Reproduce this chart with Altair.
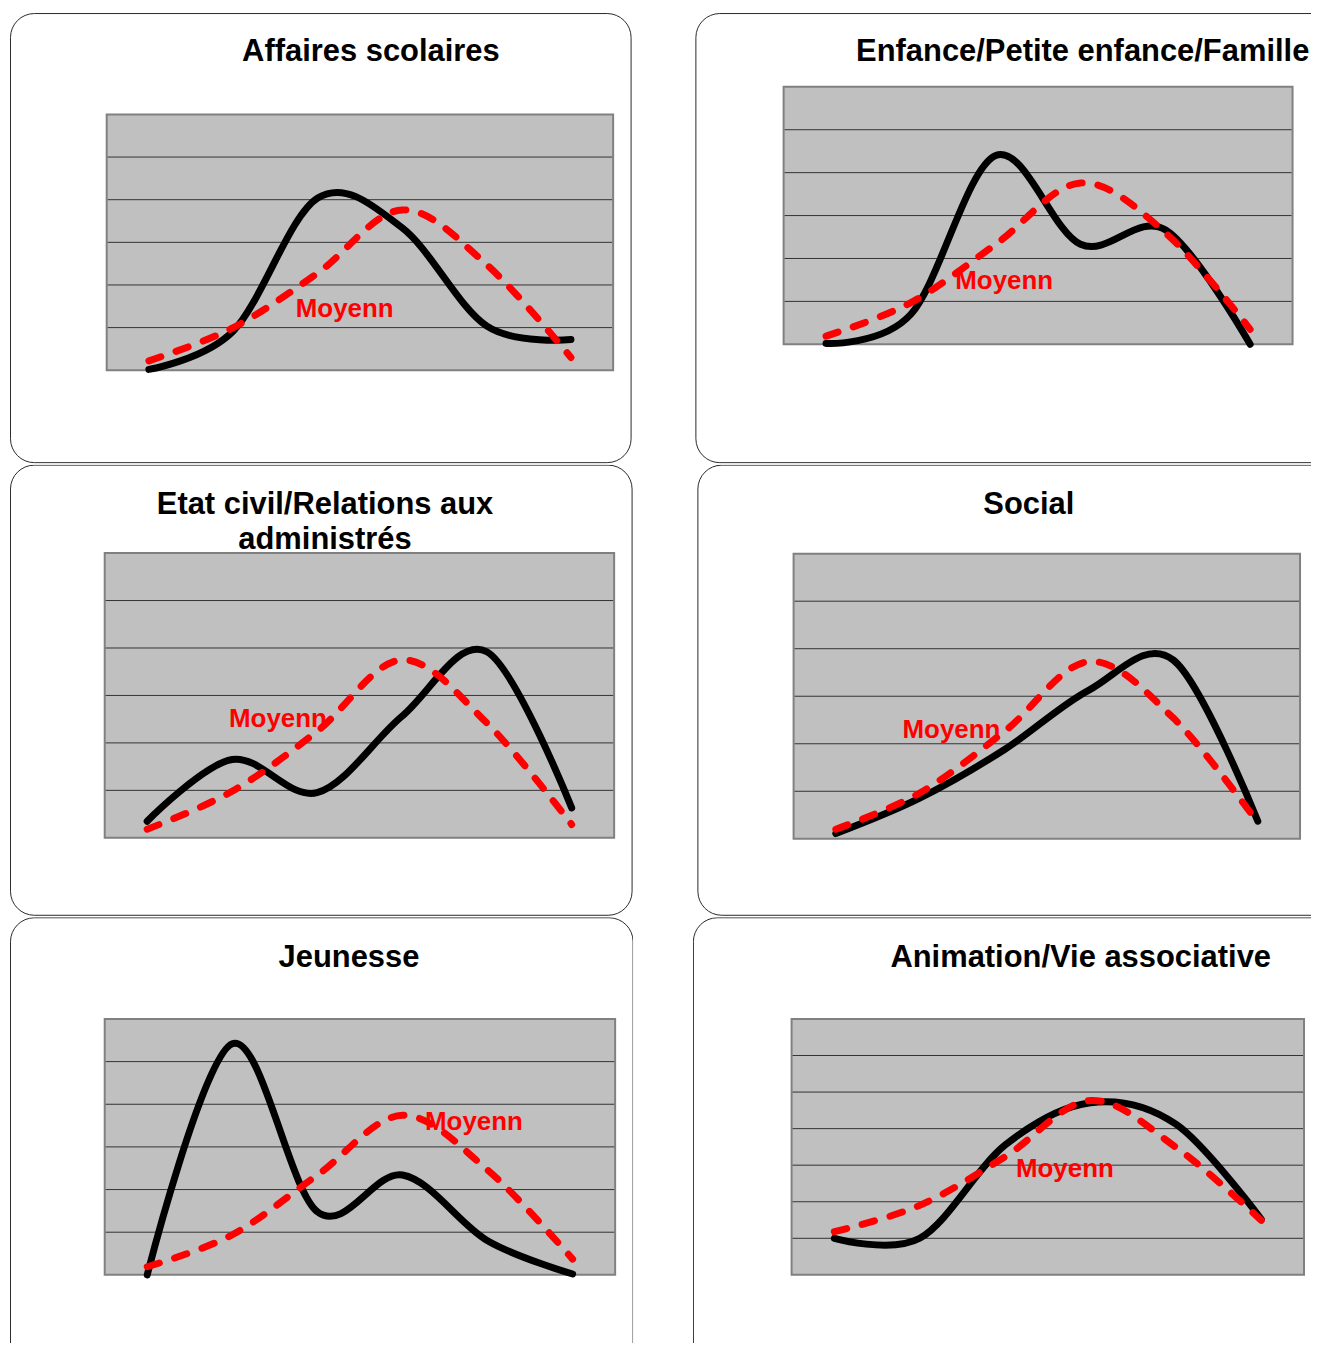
import altair as alt
import pandas as pd

categories = [1, 2, 3, 4, 5, 6]
titles = [
    "Affaires scolaires",
    "Enfance/Petite enfance/Famille",
    "Etat civil/Relations aux\nadministrés",
    "Social",
    "Jeunesse",
    "Animation/Vie associative",
]

service_affaires = [0.2, 9.2, 40.4, 33.4, 10.4, 7.2]
moyenne_affaires = [2.2, 10.0, 22.8, 37.6, 24.8, 3.0]
service_enfance = [0.2, 7.0, 44.0, 23.3, 26.7, 0.0]
moyenne_enfance = [1.9, 9.7, 23.3, 37.6, 26.0, 3.5]
service_etat = [3.5, 16.5, 9.5, 25.6, 39.2, 6.3]
moyenne_etat = [1.8, 9.8, 22.4, 37.5, 24.2, 2.8]
service_social = [1.1, 8.6, 18.8, 31.3, 37.6, 3.7]
moyenne_social = [2.0, 9.7, 22.6, 37.3, 25.4, 3.4]
service_jeunesse = [0.0, 54.2, 14.8, 23.4, 8.0, 0.2]
moyenne_jeunesse = [1.9, 9.4, 23.4, 37.4, 24.6, 3.7]
service_animation = [0.0, 0.0, 25.5, 37.1, 31.2, 5.2]
moyenne_animation = [1.8, 9.0, 22.3, 37.7, 24.9, 4.9]

services = [service_affaires, service_enfance, service_etat,
            service_social, service_jeunesse, service_animation]
moyennes = [moyenne_affaires, moyenne_enfance, moyenne_etat,
            moyenne_social, moyenne_jeunesse, moyenne_animation]

label_text = "Moyenn"
label_x = [3.32, 3.10, 2.54, 2.37, 4.84, 3.70]
label_y = [12.5, 12.8, 23.4, 21.3, 33.9, 16.9]

y_domains = [[0, 60], [0, 60], [0, 60], [0, 60], [0, 60], [-10, 60]]
grid_values = [[10, 20, 30, 40, 50]] * 5 + [[0, 10, 20, 30, 40, 50]]

# layout (pixels, relative to each panel cell)
cell_w = [625, 620, 625, 620, 625, 620]
cell_h = [452, 452, 453, 453, 427, 427]
box = [(0.5, 0.5, 623, 451), (3, 0.5, 700, 451), (0.5, 0.5, 624, 452),
       (5, 0.5, 700, 452), (0.5, 0.5, 625, 470), (0.5, 0.5, 700, 470)]
plot = [(97, 101.7, 605, 358.3), (91, 74, 601.5, 332.3), (95, 88.7, 606, 374.3),
        (101, 89.3, 609, 375.3), (95, 102, 607, 358.7), (99, 102, 613, 358.7)]
title_pos = [(362, 48), (391, 48), (316, 49), (337, 49), (340, 49.5), (389, 50)]

one = pd.DataFrame({"a": [0]})


def panel(i):
    bx0, by0, bx1, by1 = box[i]
    px0, py0, px1, py1 = plot[i]
    xs = alt.Scale(domain=[0.5, 6.5], range=[px0, px1])
    ys = alt.Scale(domain=y_domains[i], range=[py1, py0])

    frame = alt.Chart(one).mark_rect(
        fill="white", stroke="#2a2a2a", strokeWidth=1, cornerRadius=24, clip=True
    ).encode(x=alt.value(bx0), x2=alt.value(bx1), y=alt.value(by0), y2=alt.value(by1))

    area = alt.Chart(one).mark_rect(
        fill="#C0C0C0", stroke="#808080", strokeWidth=2
    ).encode(x=alt.value(px0), x2=alt.value(px1), y=alt.value(py0), y2=alt.value(py1))

    grid = alt.Chart(pd.DataFrame({"g": grid_values[i]})).mark_rule(
        color="#333333", strokeWidth=1
    ).encode(
        y=alt.Y("g:Q", scale=ys, axis=None),
        x=alt.value(px0 + 1), x2=alt.value(px1 - 1),
    )

    df_s = pd.DataFrame({"k": categories, "v": services[i]})
    df_m = pd.DataFrame({"k": categories, "v": moyennes[i]})

    line_s = alt.Chart(df_s).mark_line(
        interpolate="cardinal", color="black", strokeWidth=7, strokeCap="round"
    ).encode(x=alt.X("k:Q", scale=xs, axis=None), y=alt.Y("v:Q", scale=ys, axis=None))

    line_m = alt.Chart(df_m).mark_line(
        interpolate="cardinal", color="#FF0000", strokeWidth=7,
        strokeCap="round", strokeDash=[13, 16]
    ).encode(x=alt.X("k:Q", scale=xs, axis=None), y=alt.Y("v:Q", scale=ys, axis=None))

    lab = alt.Chart(pd.DataFrame({"lx": [label_x[i]], "ly": [label_y[i]], "t": [label_text]})).mark_text(
        font="Liberation Sans", fontWeight="bold",
        fontSize=26, color="#FF0000", align="center", baseline="alphabetic"
    ).encode(
        x=alt.X("lx:Q", scale=xs, axis=None),
        y=alt.Y("ly:Q", scale=ys, axis=None),
        text="t:N",
    )

    tx, ty = title_pos[i]
    title = alt.Chart(one).mark_text(
        font="Liberation Sans", fontWeight="bold", fontSize=31, color="black",
        align="center", baseline="alphabetic", lineBreak="\n", lineHeight=36
    ).encode(x=alt.value(tx), y=alt.value(ty), text=alt.value(titles[i]))

    return alt.layer(frame, area, grid, line_s, line_m, lab, title).properties(
        width=cell_w[i], height=cell_h[i]
    )


rows = [alt.hconcat(panel(2 * r), panel(2 * r + 1), spacing=60) for r in range(3)]
chart = alt.vconcat(*rows, spacing=1).properties(
    padding={"left": 2, "top": 3, "right": 0, "bottom": 0}
).configure_view(stroke=None)

chart.save("out.html", embed_options={"renderer": "svg", "actions": False})
